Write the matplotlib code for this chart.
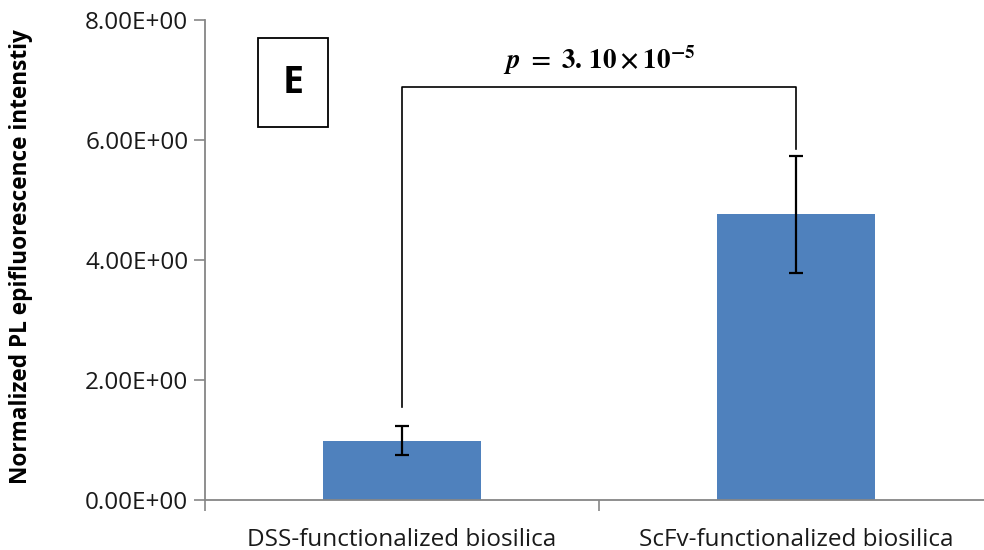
import matplotlib
matplotlib.use("Agg")
import matplotlib.pyplot as plt
from matplotlib.patches import Rectangle

# datos de intensidad normalizada
categorias = ["DSS-functionalized biosilica", "ScFv-functionalized biosilica"]
intensidad = [0.99, 4.76]
error = [0.245, 0.97]

# soporte de la significancia
barra_y = 6.88
barra_fin = [1.55, 5.85]
p_texto = r"$\mathbfit{p}\mathbf{\ =\ 3.\,10\times10^{-5}}$"

yticks = [0, 2, 4, 6, 8]
yticklabels = ["0.00E+00", "2.00E+00", "4.00E+00", "6.00E+00", "8.00E+00"]

plt.rcParams["font.family"] = ["Open Sans", "DejaVu Sans"]
plt.rcParams["mathtext.fontset"] = "stix"

fig = plt.figure(figsize=(9.84, 5.5), dpi=100)
ax = fig.add_axes([205 / 984, 50 / 550, 788 / 984, 480 / 550])

x = list(range(len(categorias)))
ax.bar(x, intensidad, width=0.4, color="#4F81BD", zorder=2)
ax.errorbar(x, intensidad, yerr=error, fmt="none", ecolor="black",
            elinewidth=1.6, capsize=5, capthick=1.6, zorder=3)

# corchete con el valor p
ax.plot([x[0], x[0], x[1], x[1]], [barra_fin[0], barra_y, barra_y, barra_fin[1]],
        color="black", lw=1.2, zorder=3)
ax.text((x[0] + x[1]) / 2, barra_y + 0.45, p_texto, ha="center", va="center",
        fontsize=19.5)

ax.set_xlim(-0.5, 1.5)
ax.set_ylim(0, 8)
ax.set_yticks(yticks)
ax.set_yticklabels(yticklabels, fontsize=17.5, color="#1a1a1a")
ax.set_xticks(x)
ax.set_xticklabels(categorias, fontsize=17.5, color="#1a1a1a")
ax.set_xticks([-0.5, 0.5, 1.5], minor=True)
ax.tick_params(axis="x", which="major", length=0, pad=20)
ax.tick_params(axis="x", which="minor", length=8, width=1.2, color="#868686")
ax.tick_params(axis="y", length=8, width=1.2, color="#868686", pad=4)

for s in ["top", "right"]:
    ax.spines[s].set_visible(False)
for s in ["left", "bottom"]:
    ax.spines[s].set_color("#868686")
    ax.spines[s].set_linewidth(1.3)

ax.set_ylabel("Normalized PL epifluorescence intenstiy", fontsize=16.3,
              fontweight="bold", va="center")
ax.yaxis.set_label_coords(21 / 984, 1 - 257 / 550, transform=fig.transFigure)

# recuadro con la letra del panel
fig.patches.append(Rectangle((258 / 984, 1 - 127 / 550), 70 / 984, 89 / 550,
                             transform=fig.transFigure, fill=False,
                             edgecolor="black", lw=1.3))
fig.text(293 / 984, 1 - 83 / 550, "E", ha="center", va="center",
         fontsize=27, fontweight="bold")

fig.savefig("out.png", dpi=100)
